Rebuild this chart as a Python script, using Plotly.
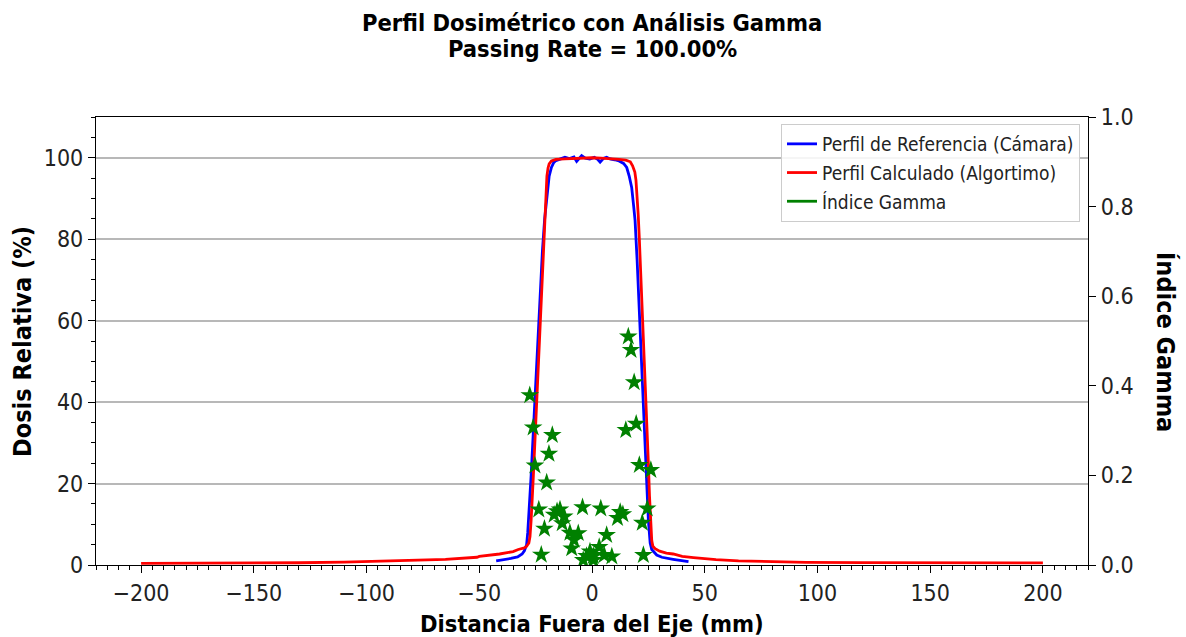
import plotly.graph_objects as go

# Calculated profile (algorithm), off-axis distance in mm and relative dose in %
calc_x = [-200, -150, -130, -110, -85, -65, -51, -50, -41, -35, -32.7, -30, -29, -28,
          -27.5, -27, -26, -25, -24, -23, -22, -21, -20.5, -20, -19.5, -19, -18, -16,
          -12, -8, -4, 0, 4, 8, 12, 15, 17, 18, 19, 19.5, 20, 20.5, 21, 22, 23, 24, 25,
          25.5, 26, 26.5, 27, 28, 30, 33, 36, 40, 45, 50, 55, 65, 80, 95, 120, 150, 200]
calc_dose = [0.4, 0.45, 0.55, 0.7, 1.0, 1.4, 1.9, 2.1, 2.7, 3.3, 3.8, 4.2, 4.6, 5.4,
             7, 11, 22, 34, 48, 61, 73, 84, 91, 95.5, 97.5, 98.5, 99.2, 99.6,
             99.7, 99.8, 99.9, 100, 99.9, 99.8, 99.6, 99.4, 99.0, 98.0, 96.5, 94.5, 91,
             86, 80, 67, 53, 39, 25, 17, 10, 6, 4.6, 4.0, 3.4, 2.9, 2.7, 2.1, 1.8, 1.55,
             1.3, 1.0, 0.8, 0.65, 0.58, 0.55, 0.5]

# Reference profile (chamber measurement)
ref_x = [-42.5, -40, -36, -33, -31, -30, -29.5, -29, -28.5, -28, -27, -26, -25, -24,
         -23, -22, -21, -20, -19, -18, -17, -16, -14, -12, -10, -8, -6.8, -5.5, -4.6,
         -3, -1, 1, 2.5, 3.6, 5, 6.5, 8, 10, 12, 14, 15.4, 16.5, 17.6, 18.5, 19.1, 20,
         21, 22, 23, 24, 25, 25.8, 26.5, 28.7, 31, 36, 40, 42.8]
ref_dose = [1.0, 1.2, 1.6, 2.0, 2.7, 3.5, 4.2, 5.0, 8, 12, 22, 33, 45, 56,
            67, 77, 85, 91, 95.5, 97.6, 98.8, 99.3, 99.7, 100.1, 99.8, 100.2, 99.1, 99.8,
            100.5, 99.9, 99.7, 100.1, 99.6, 98.9, 99.8, 100.1, 99.7, 99.5, 99.2, 98.6,
            97.6, 95.5, 92.7, 88, 84.6, 75, 62, 48, 35, 22, 11, 5.4, 3.8, 2.45, 1.9,
            1.4, 1.0, 0.8]

# Gamma index per evaluated point
gamma_x = [16.1, 17.3, 18.7, -27.6, -26.1, -17.6, 19.6, 15.0, -19.1, -25.3, 21.0, 26.1,
           -20.1, -23.6, -14.2, -4.2, 3.9, 24.5, -16.8, -12.3, 11.3, 13.7, -13.2, -21.1,
           22.3, -9.8, -6.1, 6.5, -8.0, -9.0, -22.5, 22.8, -2.4, 0.6, 3.2, -0.9, 5.4,
           8.8, -3.9, 0.6, -15.5, 12.5]
gamma_val = [0.510, 0.480, 0.408, 0.379, 0.307, 0.290, 0.315, 0.301, 0.248, 0.222,
             0.223, 0.212, 0.184, 0.124, 0.124, 0.129, 0.126, 0.126, 0.112, 0.108,
             0.105, 0.113, 0.093, 0.081, 0.094, 0.072, 0.071, 0.067, 0.056, 0.037,
             0.023, 0.022, 0.020, 0.020, 0.040, 0.030, 0.022, 0.019, 0.011, 0.011,
             0.120, 0.118]

passing_rate = 100.00

FONT = "DejaVu Sans Condensed, DejaVu Sans, sans-serif"

# page geometry of the plotting area
W, H = 1186, 637
ML, MR, MT, MB = 96, 98, 117, 72
PW, PH = W - ML - MR, H - MT - MB


def px_x(px):
    return (px - ML) / PW


def px_y(py):
    return (H - MB - py) / PH


fig = go.Figure()
fig.add_trace(go.Scatter(x=ref_x, y=ref_dose, mode="lines", legendgroup="a",
                         line=dict(color="#0000ff", width=2.8),
                         name="Perfil de Referencia (Cámara)"))
fig.add_trace(go.Scatter(x=calc_x, y=calc_dose, mode="lines", legendgroup="b",
                         line=dict(color="#ff0000", width=2.8),
                         name="Perfil Calculado (Algortimo)"))
fig.add_trace(go.Scatter(x=gamma_x, y=gamma_val, mode="markers", yaxis="y2",
                         marker=dict(symbol="star", size=14, color="#008000",
                                     line=dict(width=0)),
                         showlegend=False, name="Índice Gamma"))
# legend handle for the gamma series
fig.add_trace(go.Scatter(x=[None], y=[None], mode="lines", yaxis="y2", legendgroup="c",
                         line=dict(color="#008000", width=2.8), name="Índice Gamma"))

axis_common = dict(showline=True, linecolor="black", linewidth=1.3, ticks="outside",
                   ticklen=7, tickwidth=1.3, tickcolor="black", zeroline=False,
                   tickfont=dict(family=FONT, size=23, color="#222"))


def label(text, x, y, size, angle=0, centered_x=False):
    return dict(text=text, x=0.5 if centered_x else px_x(x), y=px_y(y),
                xref="paper", yref="paper", xanchor="center", yanchor="middle",
                textangle=angle, showarrow=False,
                font=dict(family=FONT, size=size, color="black"))


fig.update_layout(
    width=W, height=H,
    margin=dict(l=ML, r=MR, t=MT, b=MB),
    paper_bgcolor="white", plot_bgcolor="white",
    font=dict(family=FONT, color="black"),
    xaxis=dict(range=[-220, 220], tickvals=[-200, -150, -100, -50, 0, 50, 100, 150, 200],
               showgrid=False, mirror=True,
               minor=dict(dtick=5, tick0=0, ticks="outside", ticklen=4, tickwidth=1,
                          tickcolor="black", showgrid=False),
               **axis_common),
    yaxis=dict(range=[0, 110], tickvals=[0, 20, 40, 60, 80, 100],
               showgrid=True, gridcolor="#b8b8b8", gridwidth=1.5,
               minor=dict(dtick=5, tick0=0, ticks="outside", ticklen=4, tickwidth=1,
                          tickcolor="black", showgrid=False),
               **axis_common),
    yaxis2=dict(range=[0, 1], overlaying="y", side="right", tickformat=".1f",
                tickvals=[0, 0.2, 0.4, 0.6, 0.8, 1.0], showgrid=False,
                **axis_common),
    legend=dict(x=px_x(1080), y=px_y(124), xanchor="right", yanchor="top",
                bgcolor="rgba(255,255,255,0.85)", bordercolor="#cccccc", borderwidth=1,
                font=dict(family=FONT, size=19, color="#222"),
                tracegroupgap=1, itemwidth=30),
    showlegend=True,
    annotations=[
        label("<b>Perfil Dosimétrico con Análisis Gamma</b>", 0, 23, 23.5, centered_x=True),
        label("<b>Passing Rate = %.2f%%</b>" % passing_rate, 0, 49, 23.5, centered_x=True),
        label("<b>Distancia Fuera del Eje (mm)</b>", 0, 624, 23.5, centered_x=True),
        label("<b>Dosis Relativa (%)</b>", 22, 342, 25, angle=-90),
        label("<b>Índice Gamma</b>", 1166, 342, 25, angle=90),
    ],
)

fig.write_html("out.html")
